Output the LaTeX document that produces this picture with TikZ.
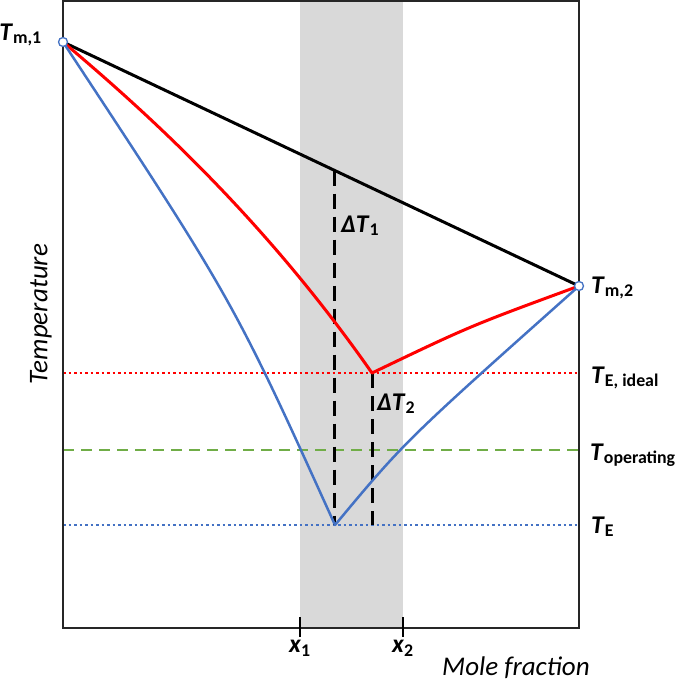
\documentclass[tikz,border=0pt]{standalone}
\usepackage{fontspec}
\setmainfont{Carlito}
\usetikzlibrary{calc}
\usetikzlibrary{positioning}

\definecolor{lineblue}{RGB}{68,114,196}
\definecolor{linegreen}{RGB}{112,173,71}
\definecolor{bandgrey}{RGB}{217,217,217}

\newcommand{\Tsub}[1]{\textbf{\textit{T}}\textsubscript{\textbf{#1}}}

\begin{document}
\begin{tikzpicture}[x=1pt,y=-1pt,
    lbl/.style={inner sep=0pt,font=\fontsize{25.5}{30}\selectfont},
    axlbl/.style={inner sep=0pt,font=\fontsize{27}{30}\selectfont\itshape},
    curve/.style={line width=3pt,line cap=round,line join=round},
    vguide/.style={line width=3pt,dash pattern=on 15pt off 8pt},
    level/.style={line width=2.5pt,dash pattern=on 2.5pt off 3pt},
    melt/.style={circle,draw=lineblue,fill=white,line width=1.3pt,inner sep=0pt,minimum size=9pt}]
  \useasboundingbox (0,0) rectangle (679,683);

  % composition window
  \fill[bandgrey] (300,1) rectangle (403,628);

  \coordinate (tm1) at (63,42);
  \coordinate (tm2) at (579,286);
  \coordinate (eid) at (372,373);
  \coordinate (eut) at (335,525);
  \coordinate (d1) at ($(tm1)!0.527!(tm2)$);

  % levels
  \draw[level,red] (63,373) coordinate (ei-l) -- (579,373) coordinate (ei-r);
  \draw[line width=2.5pt,linegreen,dash pattern=on 11pt off 7pt] (63,450) coordinate (op-l) -- (579,450) coordinate (op-r);
  \draw[level,lineblue] (63,525) coordinate (te-l) -- (579,525) coordinate (te-r);

  % temperature differences
  \draw[vguide] (d1) -- (d1 |- eut);
  \draw[vguide] (eid) -- (eid |- eut);

  % liquidus lines
  \draw[curve] (tm1) -- (tm2);
  \draw[curve,red] (tm1) .. controls (163,126) and (272,230) .. (eid)
    .. controls (470,326) .. (tm2);
  \draw[curve,lineblue,line width=2.5pt] (tm1) .. controls (233,300) .. (eut)
    .. controls (405,441) .. (tm2);

  % frame and ticks
  \draw[line width=2pt,black!85] (63,1) rectangle (579,628);
  \draw[line width=2.5pt] (300,617) coordinate (x1t) -- (300,637) coordinate (x1b);
  \draw[line width=2.5pt] (403,617) coordinate (x2t) -- (403,637) coordinate (x2b);

  \node[melt] at (tm1) {};
  \node[melt] at (tm2) {};

  % labels
  \node[lbl,anchor=base east] (ltm1) at (42,40) {\Tsub{m,1}};
  \node[lbl,anchor=base west] (ltm2) at (591,293) {\Tsub{m,2}};
  \node[lbl,anchor=base west] (lei) at (591,383) {\Tsub{E,\ ideal}};
  \node[lbl,anchor=base west] (lop) at (590,460) {\Tsub{operating}};
  \node[lbl,anchor=base west] (lte) at (591,533) {\Tsub{E}};
  \node[lbl,anchor=base west] (ldt1) at (341,232) {\textbf{\textit{ΔT}}\textsubscript{\textbf{1}}};
  \node[lbl,anchor=base west] (ldt2) at (377,410) {\textbf{\textit{ΔT}}\textsubscript{\textbf{2}}};
  \node[lbl,below=3pt of x1b] (lx1) {\textbf{\textit{x}}\textsubscript{\textbf{1}}};
  \node[lbl,below=3pt of x2b] (lx2) {\textbf{\textit{x}}\textsubscript{\textbf{2}}};
  \node[axlbl,anchor=base west] (lmole) at (442,675) {Mole fraction};
  \node[axlbl,rotate=90] (ltemp) at (41,314) {Temperature};
\end{tikzpicture}
\end{document}
